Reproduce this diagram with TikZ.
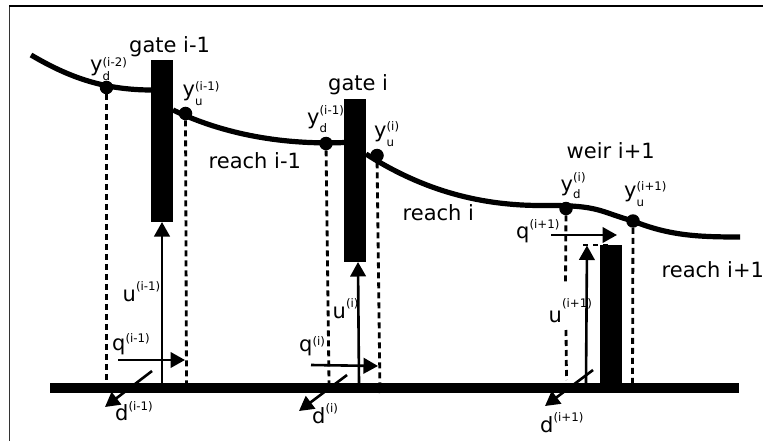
\documentclass[tikz,border=0pt]{standalone}
\usepackage{fontspec}
\setmainfont{DejaVu Sans}
\usetikzlibrary{arrows.meta}
\newcommand{\bigtxt}{\fontsize{21}{22}\selectfont}
\newcommand{\smtxt}{\fontsize{11.8}{12}\selectfont}
% #1 letter, #2 subscript, #3 superscript, #4 drop of subscript, #5 rise of superscript
\newcommand{\symb}[5]{\bigtxt #1\rlap{\raisebox{-#4pt}{\smtxt #2}}\raisebox{#5pt}{\smtxt #3}}
\tikzset{
  x=1pt,y=-1pt,
  lbl/.style={inner sep=0pt,anchor=base west,font=\bigtxt},
  bar/.style={fill=black,draw=none,inner sep=0pt,anchor=north west,rectangle},
  dot/.style={circle,fill=black,draw=none,inner sep=0pt,minimum size=13.5pt},
  water/.style={line width=5.2pt,draw=black},
  probe/.style={line width=2.8pt,draw=black,dash pattern=on 6pt off 4pt},
  flow/.style={line width=2.6pt,draw=black,-{Triangle[length=14.5pt,width=15.5pt]}},
}
\begin{document}
\begin{tikzpicture}
\useasboundingbox (0,0) rectangle (763,441);
\coordinate (f1) at (9,441);
\coordinate (f2) at (9,6);
\coordinate (f3) at (763,6);
\draw[line width=0.9pt,draw=black!80] (f1) -- (f2);
\draw[line width=1.3pt,draw=black] (f2) -- (f3);

% water surface
\coordinate (r1a) at (31,55);
\coordinate (r1b) at (152,90);
\coordinate (r2a) at (173,110);
\coordinate (r2b) at (345,142.5);
\coordinate (r3a) at (366,154);
\coordinate (r3b) at (740,237);
\draw[water] (r1a) .. controls (70,78) and (105,90) .. (r1b);
\draw[water] (r2a) .. controls (225,135) and (285,145) .. (r2b);
\draw[water] (r3a) .. controls (430,195) and (490,206) .. (545,205.5)
  .. controls (600,205) and (600,212) .. (633,221)
  .. controls (670,236) and (700,237) .. (r3b);

% gates, weir and ground
\node[bar,minimum width=22pt,minimum height=162pt] (g1) at (151,60) {};
\node[bar,minimum width=22pt,minimum height=163pt] (g2) at (344,99) {};
\node[bar,minimum width=22pt,minimum height=138pt] (w3) at (600,245) {};
\node[bar,minimum width=689pt,minimum height=10.5pt] (ground) at (50,382.5) {};

% dots
\node[dot] (yd1) at (106.5,87.5) {};
\node[dot] (yu1) at (185.5,113.5) {};
\node[dot] (yd2) at (326,143.5) {};
\node[dot] (yu2) at (377,155.5) {};
\node[dot] (yd3) at (566,208.5) {};
\node[dot] (yu3) at (633,221) {};

% dashed probes
\coordinate (p1) at (106.5,383);
\coordinate (p2) at (186.5,383);
\coordinate (p3) at (329,383);
\coordinate (p4) at (380,393);
\coordinate (p5a) at (565.5,285);
\coordinate (p5b) at (566,330);
\coordinate (p5) at (566.5,380);
\coordinate (p6) at (632.5,383);
\draw[probe] (yd1) -- (p1);
\draw[probe] (yu1) -- (p2);
\draw[probe] (yd2) -- (p3);
\draw[probe] (yu2) -- (p4);
\draw[probe] (yd3) -- (p5a);
\draw[probe] (p5b) -- (p5);
\draw[probe] (yu3) -- (p6);

% weir crest
\coordinate (c1) at (583,245);
\coordinate (c2) at (610,245);
\draw[line width=2pt,dash pattern=on 5pt off 5pt] (c1) -- (c2);

% control arrows
\coordinate (u1a) at (162,383);
\coordinate (u1b) at (162,222);
\coordinate (u2a) at (359,383);
\coordinate (u2b) at (358,262);
\coordinate (u3a) at (586,383);
\coordinate (u3b) at (587,245.5);
\draw[flow] (u1a) -- (u1b);
\draw[flow] (u2a) -- (u2b);
\draw[flow] (u3a) -- (u3b);

% flows
\coordinate (q1a) at (118,360);
\coordinate (q1b) at (185,360);
\coordinate (q2a) at (311,365);
\coordinate (q2b) at (378,366);
\coordinate (q3a) at (551,235);
\coordinate (q3b) at (617,235);
\draw[flow] (q1a) -- (q1b);
\draw[flow] (q2a) -- (q2b);
\draw[flow] (q3a) -- (q3b);

% disturbances
\coordinate (d1a) at (152,371);
\coordinate (d1b) at (105,407);
\coordinate (d2a) at (347,375);
\coordinate (d2b) at (299,411);
\coordinate (d3a) at (593,370);
\coordinate (d3b) at (545,406);
\draw[flow] (d1a) -- (d1b);
\draw[flow] (d2a) -- (d2b);
\draw[flow] (d3a) -- (d3b);

% labels
\node[lbl] (t1) at (129,52.5) {gate i-1};
\node[lbl] (t2) at (328,90.5) {gate i};
\node[lbl] (t3) at (566.5,159) {weir i+1};
\node[lbl] (t4) at (208.5,168.5) {reach i-1};
\node[lbl] (t5) at (402.5,220) {reach i};
\node[lbl] (t6) at (661.5,277.5) {reach i+1};

\node[lbl] (l1) at (90,72) {\symb{y}{d}{(i-2)}{9}{5}};
\node[lbl] (l2) at (182.5,97) {\symb{y}{u}{(i-1)}{9}{6}};
\node[lbl] (l3) at (307,124.5) {\symb{y}{d}{(i-1)}{8.5}{9.5}};
\node[lbl] (l4) at (374,138) {\symb{y}{u}{(i)}{9}{7}};
\node[lbl] (l5) at (560.5,191.5) {\symb{y}{d}{(i)}{7}{10}};
\node[lbl] (l6) at (624,197) {\symb{y}{u}{(i+1)}{9}{7}};

\node[lbl] (u1) at (122.5,301) {\symb{u}{}{(i-1)}{0}{11}};
\node[lbl] (u2) at (332.5,318.5) {\symb{u}{}{(i)}{0}{11}};
\node[lbl] (u3) at (548.5,322) {\symb{u}{}{(i+1)}{0}{15}};
\node[lbl] (q1) at (112,350) {\symb{q}{}{(i-1)}{0}{7.5}};
\node[lbl] (q2) at (299,351.5) {\symb{q}{}{(i)}{0}{6}};
\node[lbl] (q3) at (516,238) {\symb{q}{}{(i+1)}{0}{10}};
\node[lbl] (d1) at (115,420) {\symb{d}{}{(i-1)}{0}{9.5}};
\node[lbl] (d2) at (312,423) {\symb{d}{}{(i)}{0}{10.5}};
\node[lbl] (d3) at (540,432.5) {\symb{d}{}{(i+1)}{0}{11}};
\end{tikzpicture}
\end{document}
